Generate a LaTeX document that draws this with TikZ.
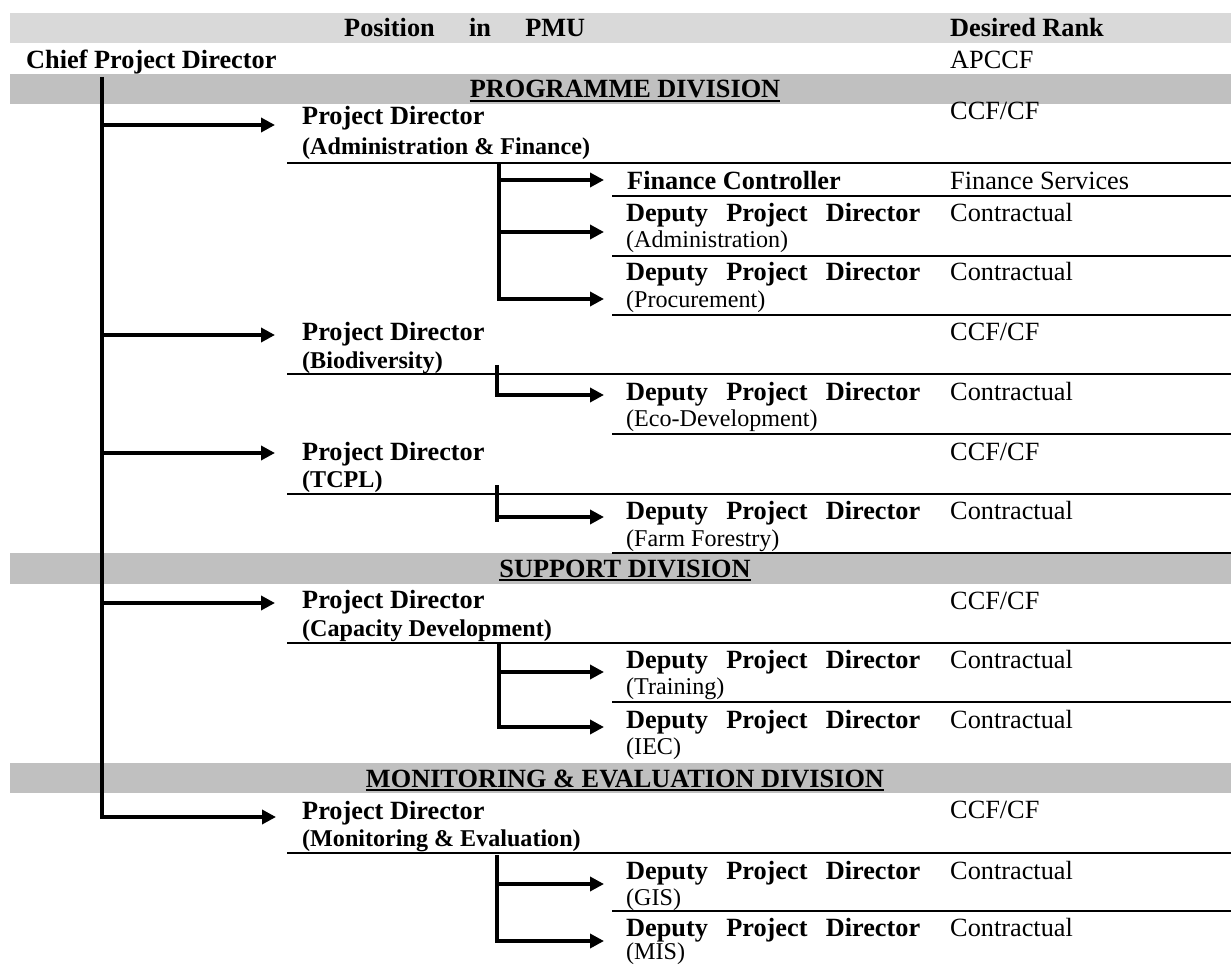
\documentclass[tikz,border=0pt]{standalone}
\usepackage{fontspec}
\setmainfont{Liberation Serif}
\usetikzlibrary{arrows.meta}
\newcommand\mainsz{\fontsize{26.3pt}{30pt}\selectfont}
\newcommand\subsz{\fontsize{24.1pt}{28pt}\selectfont}
\newcommand\dpd{\makebox[294pt][l]{\bfseries Deputy\hfill Project\hfill Director}}
\definecolor{headgray}{HTML}{D9D9D9}
\definecolor{divgray}{HTML}{C0C0C0}

\begin{document}
\begin{tikzpicture}[x=1pt,y=-1pt,
  lbl/.style={anchor=base west,inner sep=0pt,font=\mainsz},
  lblb/.style={anchor=base west,inner sep=0pt,font=\mainsz\bfseries},
  note/.style={anchor=base west,inner sep=0pt,font=\subsz},
  noteb/.style={anchor=base west,inner sep=0pt,font=\subsz\bfseries},
  divtitle/.style={anchor=base,inner sep=0pt,font=\mainsz\bfseries},
  rowrule/.style={line width=2.4pt},
  uline/.style={line width=2pt},
  link/.style={line width=4pt,-{Triangle[length=14pt,width=14pt]}},
  trunk/.style={line width=4pt}]
\useasboundingbox (0,0) rectangle (1231,965);

% shaded bands: column header and the three divisions
\fill[headgray] (10,13) rectangle (1231,43);
\fill[divgray] (10,74) rectangle (1231,104);
\fill[divgray] (10,553) rectangle (1231,584);
\fill[divgray] (10,763) rectangle (1231,793);

% column header
\node[lblb] (hpos) at (344,37) {\makebox[241pt][l]{Position\hfill in\hfill PMU}};
\node[lblb] (hrank) at (950,37) {Desired Rank};

% head of the unit
\node[lblb] (cpd) at (26,69) {Chief Project Director};
\node[lbl] (cpdr) at (950,69) {APCCF};

% division titles
\node[divtitle] (pdiv) at (625,98) {PROGRAMME DIVISION};
\node[divtitle] (sdiv) at (625,577) {SUPPORT DIVISION};
\node[divtitle] (mdiv) at (625,787) {MONITORING \& EVALUATION DIVISION};
\foreach \d in {pdiv,sdiv,mdiv}
  \draw[uline] ([yshift=-3pt]\d.base west) -- ([yshift=-3pt]\d.base east);

% ---- Programme division ----
\node[lblb] (pd1) at (302,125) {Project Director};
\node[noteb] (pd1s) at (302,155) {(Administration \& Finance)};
\node[lbl] (pd1r) at (950,120) {CCF/CF};
\draw[rowrule] (287,163) -- (1231,163);

\node[lblb] (fc) at (627,190) {Finance Controller};
\node[lbl] (fcr) at (950,190) {Finance Services};
\draw[rowrule] (612,196) -- (1231,196);

\node[lbl] (dadm) at (626,222) {\dpd};
\node[note] (dadms) at (626,248) {(Administration)};
\node[lbl] (dadmr) at (950,222) {Contractual};
\draw[rowrule] (612,256) -- (1231,256);

\node[lbl] (dpro) at (626,281) {\dpd};
\node[note] (dpros) at (626,308) {(Procurement)};
\node[lbl] (dpror) at (950,281) {Contractual};
\draw[rowrule] (612,315) -- (1231,315);

\node[lblb] (pd2) at (302,341) {Project Director};
\node[noteb] (pd2s) at (302,368) {(Biodiversity)};
\node[lbl] (pd2r) at (950,341) {CCF/CF};
\draw[rowrule] (287,374) -- (1231,374);

\node[lbl] (deco) at (626,400) {\dpd};
\node[note] (decos) at (626,426) {(Eco-Development)};
\node[lbl] (decor) at (950,400) {Contractual};
\draw[rowrule] (612,434) -- (1231,434);

\node[lblb] (pd3) at (302,460) {Project Director};
\node[noteb] (pd3s) at (302,487) {(TCPL)};
\node[lbl] (pd3r) at (950,460) {CCF/CF};
\draw[rowrule] (287,494) -- (1231,494);

\node[lbl] (dfarm) at (626,519) {\dpd};
\node[note] (dfarms) at (626,546) {(Farm Forestry)};
\node[lbl] (dfarmr) at (950,519) {Contractual};
\draw[rowrule] (612,553) -- (1231,553);

% ---- Support division ----
\node[lblb] (pd4) at (302,608) {Project Director};
\node[noteb] (pd4s) at (302,636) {(Capacity Development)};
\node[lbl] (pd4r) at (950,609) {CCF/CF};
\draw[rowrule] (287,643) -- (1231,643);

\node[lbl] (dtrn) at (626,668) {\dpd};
\node[note] (dtrns) at (626,694) {(Training)};
\node[lbl] (dtrnr) at (950,668) {Contractual};
\draw[rowrule] (612,702) -- (1231,702);

\node[lbl] (diec) at (626,728) {\dpd};
\node[note] (diecs) at (626,754) {(IEC)};
\node[lbl] (diecr) at (950,728) {Contractual};

% ---- Monitoring & Evaluation division ----
\node[lblb] (pd5) at (302,819) {Project Director};
\node[noteb] (pd5s) at (302,846) {(Monitoring \& Evaluation)};
\node[lbl] (pd5r) at (950,818) {CCF/CF};
\draw[rowrule] (287,853) -- (1231,853);

\node[lbl] (dgis) at (626,879) {\dpd};
\node[note] (dgiss) at (626,905) {(GIS)};
\node[lbl] (dgisr) at (950,879) {Contractual};
\draw[rowrule] (612,911) -- (1231,911);

\node[lbl] (dmis) at (626,936) {\dpd};
\node[note] (dmiss) at (626,959) {(MIS)};
\node[lbl] (dmisr) at (950,936) {Contractual};

% ---- reporting lines ----
% trunk from the Chief Project Director down to the project directors
\coordinate (trunktop) at (102,77);
\coordinate (t1) at (102,125);  \coordinate (e1) at (275,125);
\coordinate (t2) at (102,335);  \coordinate (e2) at (275,335);
\coordinate (t3) at (102,453);  \coordinate (e3) at (275,453);
\coordinate (t4) at (102,603);  \coordinate (e4) at (275,603);
\coordinate (e5) at (276,817);
\draw[link] (trunktop) |- (e5);
\foreach \i in {1,...,4} \draw[link] (t\i) -- (e\i);

% Administration & Finance branch
\coordinate (g1top) at (499,164);
\coordinate (g1a) at (499,180); \coordinate (g1ae) at (604,180);
\coordinate (g1b) at (499,232); \coordinate (g1be) at (604,232);
\coordinate (g1ce) at (604,299);
\draw[link] (g1top) |- (g1ce);
\draw[link] (g1a) -- (g1ae);
\draw[link] (g1b) -- (g1be);

% Biodiversity branch
\coordinate (g2top) at (497,365);
\coordinate (g2e) at (604,395);
\draw[link] (g2top) |- (g2e);

% TCPL branch
\coordinate (g3top) at (497,485);
\coordinate (g3bot) at (497,522);
\coordinate (g3a) at (497,517); \coordinate (g3ae) at (604,517);
\draw[trunk] (g3top) -- (g3bot);
\draw[link] (g3a) -- (g3ae);

% Capacity Development branch
\coordinate (g4top) at (499,642);
\coordinate (g4a) at (499,672); \coordinate (g4ae) at (604,672);
\coordinate (g4be) at (604,727);
\draw[link] (g4top) |- (g4be);
\draw[link] (g4a) -- (g4ae);

% Monitoring & Evaluation branch
\coordinate (g5top) at (497,855);
\coordinate (g5a) at (497,884); \coordinate (g5ae) at (604,884);
\coordinate (g5be) at (604,941);
\draw[link] (g5top) |- (g5be);
\draw[link] (g5a) -- (g5ae);
\end{tikzpicture}
\end{document}
